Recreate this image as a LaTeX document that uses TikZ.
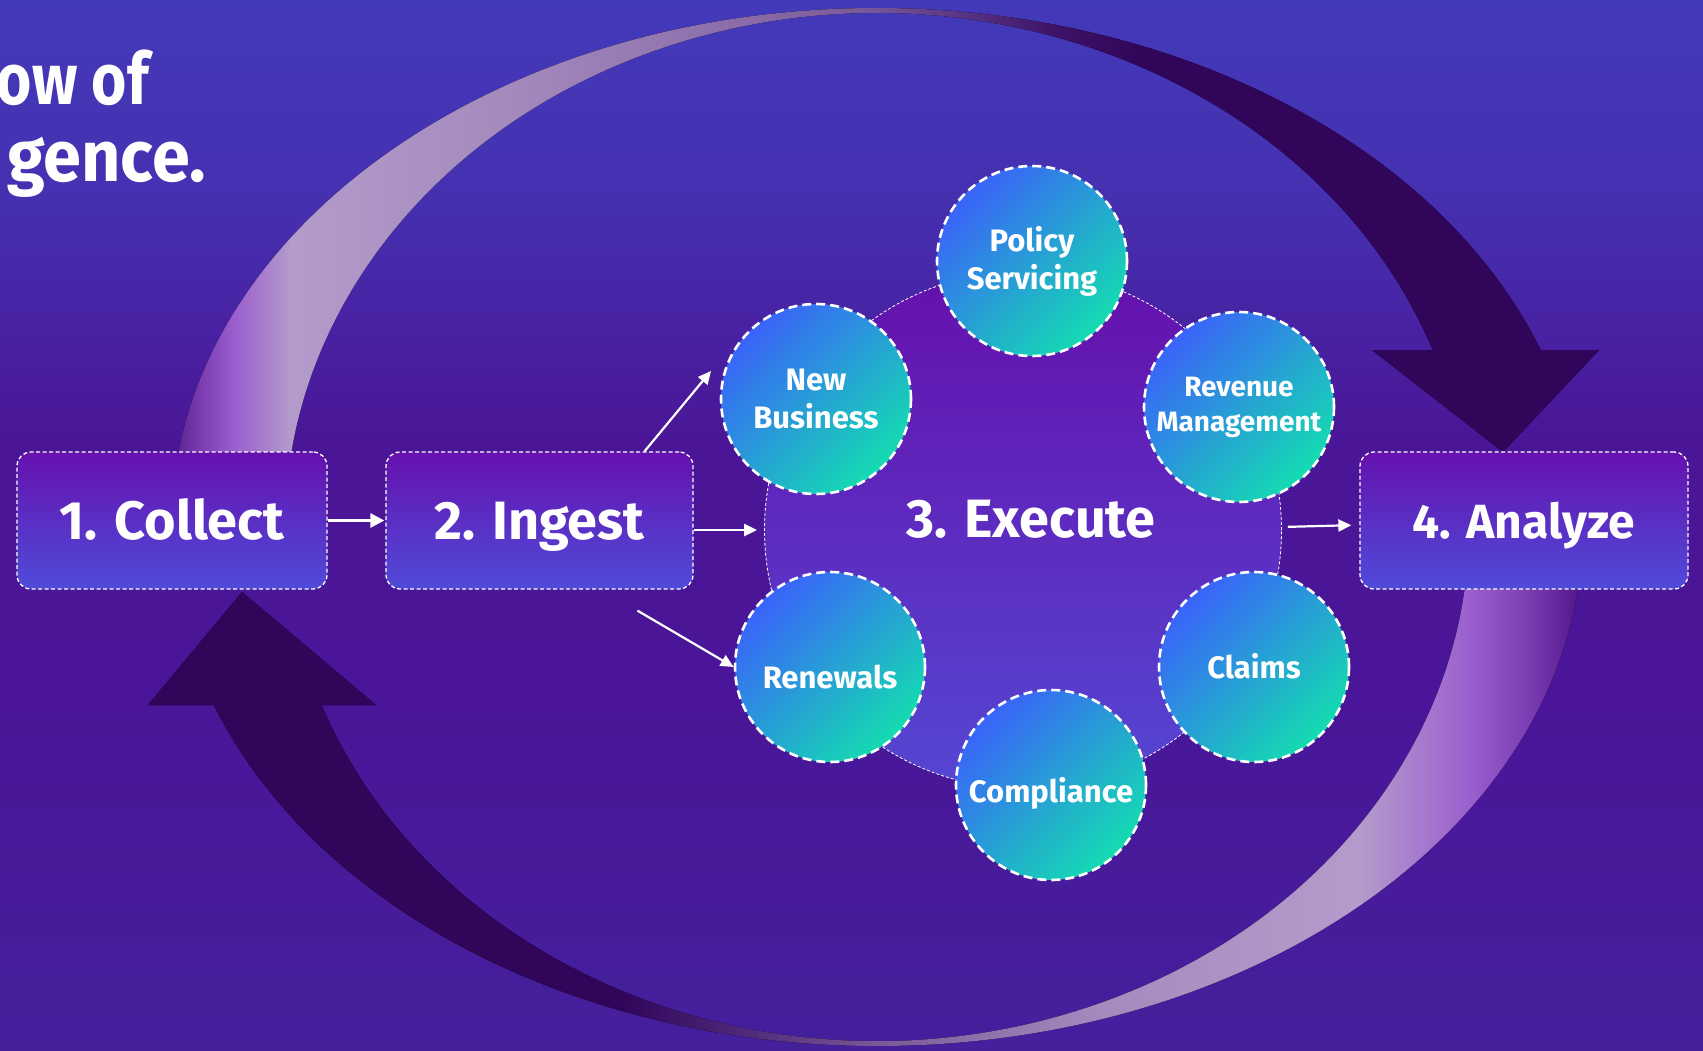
\documentclass[tikz,border=0pt]{standalone}
\usepackage{fontspec}
\setmainfont{Fira Sans}
\newfontfamily\titlefontA{Fira Sans}[FakeStretch=0.84]
\newfontfamily\titlefontB{Fira Sans}[FakeStretch=0.95]
\usetikzlibrary{arrows.meta,calc}

\definecolor{bgtop}{HTML}{433AB9}
\definecolor{bgup}{HTML}{4530B0}
\definecolor{bgmid}{HTML}{4A1596}
\definecolor{bgmidb}{HTML}{4A1598}
\definecolor{bgbot}{HTML}{44209D}

\definecolor{rA}{HTML}{54208A}
\definecolor{rB}{HTML}{7A3CB0}
\definecolor{rC}{HTML}{9B5FCF}
\definecolor{rD}{HTML}{B39BCB}
\definecolor{rE}{HTML}{A48BBE}
\definecolor{rF}{HTML}{8E72AE}
\definecolor{rG}{HTML}{7A5A98}
\definecolor{rH}{HTML}{5A3585}
\definecolor{rI}{HTML}{3F1468}
\definecolor{rK}{HTML}{30055A}
\definecolor{rL}{HTML}{4E2878}
\definecolor{rM}{HTML}{4F1488}

\definecolor{boxtop}{HTML}{6511AE}
\definecolor{boxbot}{HTML}{504BD9}
\definecolor{exectop}{HTML}{6510AC}
\definecolor{execbot}{HTML}{5547D3}
\definecolor{bubA}{HTML}{3A63F9}
\definecolor{bubB}{HTML}{14DCB1}

\pgfdeclareverticalshading{bgshade}{100bp}{color(0bp)=(bgbot); color(25bp)=(bgbot); color(41.7bp)=(bgmidb); color(53.6bp)=(bgmid); color(65.5bp)=(bgup); color(75bp)=(bgtop); color(100bp)=(bgtop)}

\pgfdeclarehorizontalshading{topribbon}{100bp}{color(0bp)=(rA); color(25bp)=(rA); color(26.02bp)=(rB); color(27.24bp)=(rC); color(29.17bp)=(rD); color(36.52bp)=(rE); color(43.52bp)=(rF); color(49.12bp)=(rG); color(52.63bp)=(rH); color(55.78bp)=(rI); color(58.93bp)=(rK); color(75bp)=(rK); color(100bp)=(rK)}

\pgfdeclarehorizontalshading{botribbon}{100bp}{color(0bp)=(rK); color(25bp)=(rK); color(41.45bp)=(rK); color(45.63bp)=(rL); color(50.51bp)=(rG); color(58.17bp)=(rE); color(67.23bp)=(rD); color(71.06bp)=(rC); color(73.15bp)=(rB); color(75bp)=(rM); color(100bp)=(rM)}

\tikzset{
  box/.style={rectangle, rounded corners=14pt, draw=white, line width=1.3pt,
    dash pattern=on 4pt off 2.5pt, top color=boxtop, bottom color=boxbot,
    minimum height=137pt, inner sep=0pt, text=white,
    font=\fontsize{54}{60}\selectfont\bfseries, text height=38pt, text depth=0pt},
  bubble/.style={circle, minimum size=190pt, inner sep=0pt, draw=white,
    line width=2.6pt, dash pattern=on 9pt off 5pt,
    top color=bubA, bottom color=bubB, shading angle=45,
    text=white, font=\fontsize{31}{38}\selectfont\bfseries, align=center},
  conn/.style={draw=white, line width=2.2pt, -{Triangle[length=13pt,width=12pt]}},
  titletext/.style={anchor=base east, inner sep=0pt, text=white},
}

\begin{document}
\begin{tikzpicture}[x=1pt,y=1pt]
\useasboundingbox (0,0) rectangle (1703,-1051);
\fill[shading=bgshade] (0,0) rectangle (1703,-1051);

% title (cut off at left)
\node[titletext, font=\titlefontA\bfseries\fontsize{72}{80}\selectfont] (title1) at (149,-105) {ow of};
\node[titletext, font=\titlefontB\bfseries\fontsize{72}{80}\selectfont] (title2) at (206,-182) {gence.};

% ribbons
\fill[shading=topribbon] (171,-527) arc[start angle=180, end angle=19.94, x radius=706pt, y radius=519pt]
  -- (1599,-350) -- (1503,-452) -- (1372,-350) -- ({877+592*cos(20.15)},-350)
  arc[start angle=20.15, end angle=180, x radius=592pt, y radius=514pt] -- cycle;
\fill[shading=botribbon] (1583,-527) arc[start angle=0, end angle=-159.93, x radius=706pt, y radius=519pt]
  -- (148,-705) -- (242,-592) -- (376,-705) -- ({877+592*cos(-159.74)},-705)
  arc[start angle=-159.74, end angle=0, x radius=592pt, y radius=514pt] -- cycle;

% execute circle
\node[circle, minimum size=517pt, inner sep=0pt, draw=white, line width=0.8pt,
  dash pattern=on 3pt off 2pt, top color=exectop, bottom color=execbot] (execute) at (1023,-530) {};
\node[anchor=base, inner sep=0pt, text=white, font=\fontsize{54}{60}\selectfont\bfseries] (exectext) at (1031,-537) {3. Execute};

% boxes
\node[box, minimum width=310pt] (collect) at (172,-520.5) {1. Collect};
\node[box, minimum width=307pt] (ingest) at (539.5,-520.5) {2. Ingest};
\node[box, minimum width=328pt, font=\fontsize{48}{56}\selectfont\bfseries, text height=36pt] (analyze) at (1524,-520.5) {4. Analyze};

% bubbles
\node[bubble] (policy) at (1032,-261) {Policy\\Servicing};
\node[bubble] (newbiz) at (816,-399) {New\\Business};
\node[bubble, font=\fontsize{28}{35}\selectfont\bfseries] (revenue) at (1239,-407) {Revenue\\Management};
\node[bubble, text height=22pt, text depth=0pt] (claims) at (1254,-667) {Claims};
\node[bubble, text height=34pt, text depth=0pt] (compliance) at (1051,-785) {Compliance};
\node[bubble, text height=42pt, text depth=0pt] (renewals) at (830,-667) {Renewals};

% connectors
\draw[conn, line width=3pt, -{Triangle[length=14pt,width=14pt]}, shorten >=1pt] (collect.east) -- (ingest.west);
\draw[conn, shorten >=7pt] (ingest.east |- execute.west) -- (execute.west);
\draw[conn, shorten <=6pt, shorten >=8pt] ([yshift=3pt]execute.east) -- ([yshift=5pt]execute.east -| analyze.west);
\coordinate (nbtip) at (711,-371);
\draw[conn] ([xshift=105pt]ingest.north) -- (nbtip);
\draw[conn] ([shift={(98pt,-21pt)}]ingest.south) -- (renewals.west);
\end{tikzpicture}
\end{document}
